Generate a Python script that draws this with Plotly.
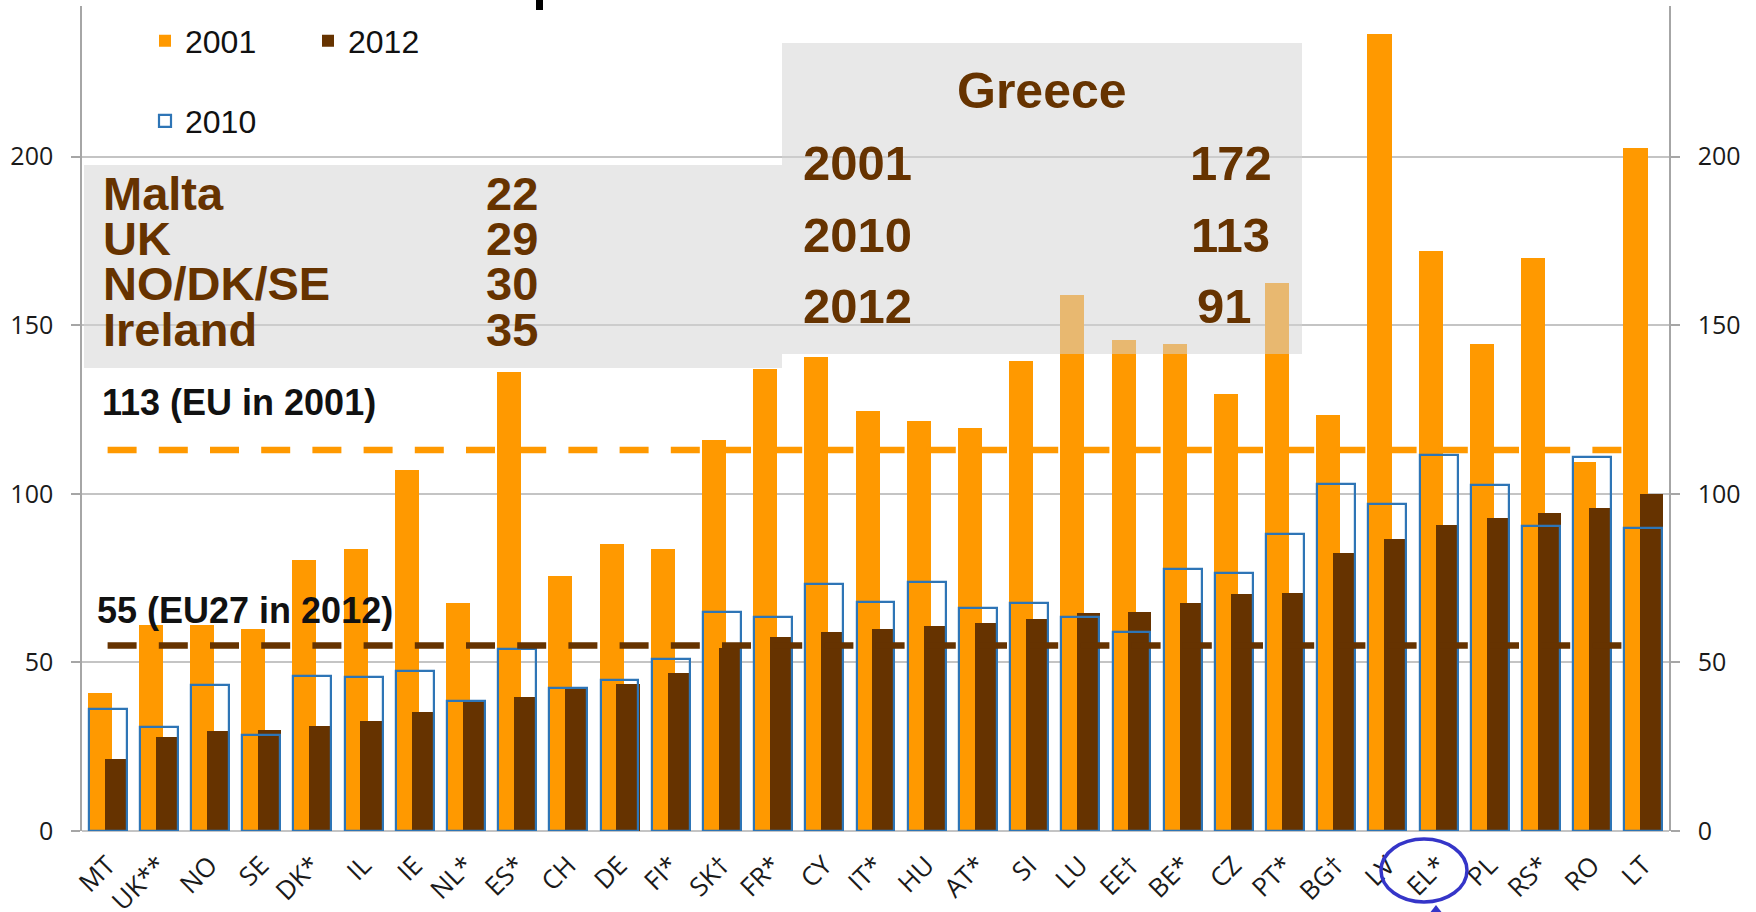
import plotly.graph_objects as go

# ---------------- data ----------------
categories = ["MT", "UK**", "NO", "SE", "DK*", "IL", "IE", "NL*", "ES*", "CH", "DE", "FI*",
              "SK†", "FR*", "CY", "IT*", "HU", "AT*", "SI", "LU", "EE†", "BE*", "CZ", "PT*",
              "BG†", "LV", "EL*", "PL", "RS*", "RO", "LT"]
v2001 = [41, 61, 61, 60, 80.5, 83.5, 107, 67.5, 136, 75.5, 85, 83.5, 116, 137, 140.5, 124.5,
         121.5, 119.5, 139.5, 159, 145.5, 144.5, 129.5, 162.5, 123.5, 236.5, 172, 144.5, 170,
         109.5, 202.5]
v2010 = [36.3, 30.8, 43.2, 28.5, 46.1, 45.8, 47.5, 38.5, 54.1, 42.3, 44.9, 50.9, 65.1, 63.6,
         73.4, 67.9, 74, 66, 67.5, 63.6, 59.1, 77.7, 76.5, 88.2, 102.9, 97, 111.4, 102.5, 90.5,
         110.9, 90]
v2012 = [21.3, 28, 29.6, 29.9, 31.2, 32.7, 35.3, 38.5, 39.6, 42.3, 43.7, 47, 54.4, 57.4, 59.1,
         60, 60.7, 61.7, 63, 64.6, 64.9, 67.5, 70.2, 70.5, 82.4, 86.7, 90.9, 92.7, 94.4, 95.7, 100]
eu2001 = 113
eu2012 = 55
y_ticks = [0, 50, 100, 150, 200]

low_names = ["Malta", "UK", "NO/DK/SE", "Ireland"]
low_values = [22, 29, 30, 35]
greece_years = ["2001", "2010", "2012"]
greece_values = [172, 113, 91]

# ---------------- styling ----------------
ORANGE = "#FF9900"
BROWN = "#663300"
BLUE = "#2E75B6"
GRID = "#C4C4C4"
AXIS = "#A6A6A6"
W, H = 1756, 912
L, R, T, B = 82, 1669, 6, 831          # plot area in pixels
YMAX = 244.7
ARIAL = "Liberation Sans, Arial, sans-serif"
TICKF = "Open Sans, Lato, sans-serif"


def px(x):
    return (x - L) / (R - L)


def py(y):
    return (B - y) / (B - T)


fig = go.Figure()
fig.add_trace(go.Bar(name="2001", x=categories, y=v2001, width=0.47, offset=-0.39,
                     marker=dict(color=ORANGE, line=dict(width=0)), legend="legend"))
fig.add_trace(go.Bar(name="2012", x=categories, y=v2012, width=0.45, offset=-0.06,
                     marker=dict(color=BROWN, line=dict(width=0)), legend="legend"))
fig.add_trace(go.Bar(name="2010", x=categories, y=v2010, width=0.74, offset=-0.37,
                     marker=dict(color="rgba(0,0,0,0)", line=dict(color=BLUE, width=2.2)),
                     legend="legend2"))
fig.add_trace(go.Scatter(x=[categories[0], categories[-1]], y=[eu2001, eu2001], mode="lines",
                         line=dict(color=ORANGE, width=6.5, dash="29px,22.2px"),
                         showlegend=False, yaxis="y2", hoverinfo="skip"))
fig.add_trace(go.Scatter(x=[categories[0], categories[-1]], y=[eu2012, eu2012], mode="lines",
                         line=dict(color=BROWN, width=6.5, dash="29px,22.2px"),
                         showlegend=False, yaxis="y2", hoverinfo="skip"))

axis_common = dict(range=[0, YMAX], tickvals=y_ticks, ticks="outside", ticklen=9,
                   tickcolor=AXIS, tickwidth=1.5, showline=True, linecolor=AXIS, linewidth=1.5,
                   tickfont=dict(family=TICKF, size=25, color="#1a1a1a"),
                   ticklabelstandoff=13, fixedrange=True, automargin=False)

fig.update_layout(
    width=W, height=H,
    margin=dict(l=L, r=W - R, t=T, b=H - B, autoexpand=False),
    paper_bgcolor="white", plot_bgcolor="white",
    barmode="overlay", bargap=0,
    xaxis=dict(type="category", categoryorder="array", categoryarray=categories,
               tickangle=-45, showgrid=False, showline=False, ticks="",
               tickfont=dict(family=TICKF, size=26, color="#1a1a1a"),
               ticklabelstandoff=13, range=[-0.5, len(categories) - 0.5], automargin=False),
    yaxis=dict(side="left", showgrid=True, gridcolor=GRID, gridwidth=1.5,
               zeroline=True, zerolinecolor=GRID, zerolinewidth=2, **axis_common),
    yaxis2=dict(side="right", overlaying="y", showgrid=False, zeroline=False, **axis_common),
    legend=dict(orientation="h", x=px(145), y=py(41), xanchor="left", yanchor="middle",
                font=dict(family=ARIAL, size=32, color="#111111"),
                bgcolor="rgba(0,0,0,0)", entrywidth=118, entrywidthmode="pixels",
                itemclick=False, itemdoubleclick=False),
    legend2=dict(orientation="h", x=px(145), y=py(121), xanchor="left", yanchor="middle",
                 font=dict(family=ARIAL, size=32, color="#111111"),
                 bgcolor="rgba(0,0,0,0)", itemclick=False, itemdoubleclick=False),
    hovermode=False,
)

box_fill = "rgba(211,211,211,0.53)"
shapes = [
    dict(type="rect", xref="paper", yref="paper", x0=px(84), x1=px(782), y0=py(368), y1=py(165),
         fillcolor=box_fill, line=dict(width=0), layer="above"),
    dict(type="rect", xref="paper", yref="paper", x0=px(782), x1=px(1302), y0=py(354), y1=py(43),
         fillcolor=box_fill, line=dict(width=0), layer="above"),
    # EL* highlight ellipse
    dict(type="circle", xref="paper", yref="paper", x0=px(1381), x1=px(1467), y0=py(902),
         y1=py(839), line=dict(color="#3535C8", width=3.5), layer="above"),
    dict(type="path", xref="paper", yref="paper",
         path=f"M {px(1429)},{py(914)} L {px(1443)},{py(914)} L {px(1436)},{py(905)} Z",
         fillcolor="#3535C8", line=dict(width=0), layer="above"),
    # bottom of the cut-off title glyph
    dict(type="rect", xref="paper", yref="paper", x0=px(536), x1=px(543), y0=py(10), y1=py(-2),
         fillcolor="black", line=dict(width=0), layer="above"),
]
fig.update_layout(shapes=shapes)

anns = []
bold_brown = dict(family=ARIAL, size=47, color=BROWN, weight="bold")
for i, (name, val) in enumerate(zip(low_names, low_values)):
    yc = 193 + i * 45.5
    anns.append(dict(text=name, x=px(101), y=py(yc), xanchor="left", yanchor="middle",
                     font=bold_brown))
    anns.append(dict(text=str(val), x=px(540), y=py(yc), xanchor="right", yanchor="middle",
                     font=bold_brown))

greece_font = dict(family=ARIAL, size=49, color=BROWN, weight="bold")
anns.append(dict(text="Greece", x=px(1042), y=py(91), xanchor="center", yanchor="middle",
                 font=dict(family=ARIAL, size=50, color=BROWN, weight="bold")))
right_edges = [1274, 1272, 1254]
for i, (yr, val) in enumerate(zip(greece_years, greece_values)):
    yc = 163 + i * 71.5
    anns.append(dict(text=yr, x=px(801), y=py(yc), xanchor="left", yanchor="middle",
                     font=greece_font))
    anns.append(dict(text=str(val), x=px(right_edges[i]), y=py(yc), xanchor="right",
                     yanchor="middle", font=greece_font))

ref_font = dict(family=ARIAL, size=36, color="#111111", weight="bold")
anns.append(dict(text=f"{eu2001} (EU in 2001)", x=px(100), y=py(402), xanchor="left",
                 yanchor="middle", font=ref_font))
anns.append(dict(text=f"{eu2012} (EU27 in 2012)", x=px(95), y=py(610), xanchor="left",
                 yanchor="middle", font=ref_font))

for a in anns:
    a.update(xref="paper", yref="paper", showarrow=False)
fig.update_layout(annotations=anns)

fig.write_html("out.html", config={"displayModeBar": False},
               post_script="document.body.style.margin='0';")
